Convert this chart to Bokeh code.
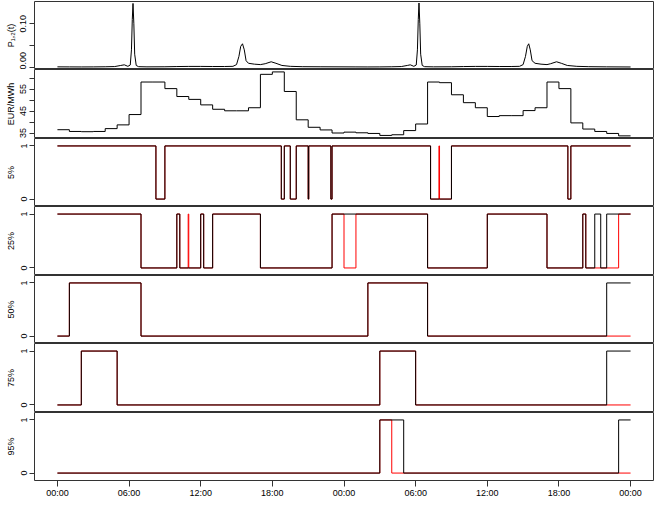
import numpy as np
from bokeh.plotting import figure
from bokeh.layouts import column
from bokeh.models import Range1d, FixedTicker
from bokeh.embed import file_html
from bokeh.resources import INLINE

FONT = "Liberation Sans"

# ---------------- data ----------------
x_tick_hours = [0, 6, 12, 18, 24, 30, 36, 42, 48]
x_tick_labels = ["00:00", "06:00", "12:00", "18:00", "00:00", "06:00", "12:00", "18:00", "00:00"]

# P_{1,2}(t): points (hours, value)
p_hours = [0.0, 1.0, 2.0, 3.0, 4.0, 4.8, 5.3, 5.6, 5.9, 6.1, 6.2, 6.27, 6.33, 6.4, 6.47, 6.6, 6.8, 7.5,
           9.0, 10.0, 11.0, 12.0, 13.0, 14.0, 14.7, 15.0, 15.2, 15.35, 15.5, 15.65, 15.8, 16.0, 16.5,
           17.0, 17.4, 17.9, 18.3, 18.8, 19.5, 20.5, 22.0,
           24.0, 25.0, 26.0, 27.0, 28.0, 28.8, 29.3, 29.55, 29.85, 30.05, 30.15, 30.22, 30.28, 30.35,
           30.42, 30.55, 30.75, 31.5, 33.0, 34.0, 35.0, 36.0, 37.0, 38.0, 38.7, 39.0, 39.2, 39.35,
           39.47, 39.6, 39.75, 40.0, 40.5, 41.0, 41.3, 41.8, 42.2, 42.7, 43.5, 44.5, 46.0, 48.0]
p_values = [0.0008, 0.0007, 0.0006, 0.0007, 0.0010, 0.0015, 0.0040, 0.0055, 0.0020, 0.0050, 0.0400,
            0.1100, 0.1470, 0.1000, 0.0300, 0.0040, 0.0012, 0.0008,
            0.0010, 0.0015, 0.0018, 0.0018, 0.0016, 0.0016, 0.0020, 0.0060, 0.0250, 0.0480, 0.0540,
            0.0400, 0.0150, 0.0090, 0.0070, 0.0060, 0.0080, 0.0125, 0.0090, 0.0040, 0.0020, 0.0012,
            0.0010,
            0.0008, 0.0007, 0.0006, 0.0007, 0.0010, 0.0015, 0.0040, 0.0055, 0.0020, 0.0050, 0.0400,
            0.1100, 0.1480, 0.1000, 0.0300, 0.0040, 0.0012, 0.0008, 0.0010, 0.0015, 0.0018, 0.0018,
            0.0016, 0.0016, 0.0020, 0.0060, 0.0250, 0.0480, 0.0540, 0.0400, 0.0150, 0.0090, 0.0070,
            0.0060, 0.0080, 0.0125, 0.0090, 0.0040, 0.0020, 0.0012, 0.0008, 0.0005]

# hourly price, EUR/MWh
price_hours = list(range(48))
price = [36.5, 35.7, 35.6, 35.7, 37.0, 38.7, 43.4, 58.2, 58.2, 55.2, 51.6, 50.3, 47.8, 45.8, 45.1, 45.1,
         46.5, 61.7, 62.8, 53.9, 41.0, 37.6, 36.4, 35.0,
         35.4, 35.1, 34.8, 33.9, 34.2, 36.1, 39.1, 58.2, 57.9, 52.4, 48.8, 46.5, 42.5, 42.9, 42.9, 45.2,
         46.5, 58.2, 55.2, 39.6, 36.8, 35.7, 34.8, 33.7]

# binary series: initial state and switching times (hours)
q_labels = ["5%", "25%", "50%", "75%", "95%"]
q05_black_start, q05_black_switch = 1, [8.25, 9.0, 18.75, 19.0, 19.5, 20.0, 21.0, 21.05, 22.9, 23.0,
                                        31.25, 33.0, 42.75, 43.0]
q05_red_start, q05_red_switch = 1, [8.25, 9.0, 18.75, 19.0, 19.5, 20.0, 21.0, 21.05, 22.9, 23.0,
                                    31.25, 31.95, 32.0, 33.0, 42.75, 43.0]
q25_black_start, q25_black_switch = 1, [7.0, 10.0, 10.25, 12.0, 12.25, 13.0, 17.0, 23.0, 31.0, 36.0,
                                        41.0, 44.0, 44.25, 45.0, 45.5, 46.0]
q25_red_start, q25_red_switch = 1, [7.0, 10.0, 10.25, 10.95, 11.0, 12.0, 12.25, 13.0, 17.0, 23.0,
                                    24.0, 25.0, 31.0, 36.0, 41.0, 44.0, 44.25, 47.0]
q50_black_start, q50_black_switch = 0, [1.0, 7.0, 26.0, 31.0, 46.0]
q50_red_start, q50_red_switch = 0, [1.0, 7.0, 26.0, 31.0]
q75_black_start, q75_black_switch = 0, [2.0, 5.0, 27.0, 30.0, 46.0]
q75_red_start, q75_red_switch = 0, [2.0, 5.0, 27.0, 30.0]
q95_black_start, q95_black_switch = 0, [27.0, 29.0, 47.0]
q95_red_start, q95_red_switch = 0, [27.0, 28.0]

T_END = 48.0


def steps(start, switches):
    xs = [0.0] + list(switches) + [T_END]
    ys = [start]
    s = start
    for _ in switches:
        s = 1 - s
        ys.append(s)
    ys.append(s)
    return xs, ys


# ---------------- layout ----------------
W = 656
LEFT = 34
xr = Range1d(-1.92, 49.92)
OUT = "#333333"


def make_fig(height, ylim, yticks, yoverrides, title, top=0, bottom=0, xaxis=False):
    p = figure(width=W, height=height, x_range=xr, y_range=Range1d(*ylim),
               output_backend="svg", toolbar_location=None,
               x_axis_location="below" if xaxis else None,
               min_border_left=LEFT, min_border_right=3,
               min_border_top=top, min_border_bottom=bottom)
    p.grid.visible = False
    p.outline_line_color = OUT
    p.outline_line_width = 1
    p.background_fill_color = "white"
    p.border_fill_color = "white"
    ya = p.yaxis[0]
    ya.ticker = FixedTicker(ticks=yticks)
    ya.major_label_overrides = yoverrides
    ya.major_label_orientation = "vertical"
    ya.major_label_text_font = FONT
    ya.major_label_text_font_size = "9px"
    ya.major_label_text_color = "#000000"
    ya.major_label_standoff = 3
    ya.major_tick_out = 5
    ya.major_tick_in = 0
    ya.major_tick_line_color = OUT
    ya.minor_tick_line_color = None
    ya.axis_line_color = None
    ya.axis_label = title
    ya.axis_label_text_font = FONT
    ya.axis_label_text_font_size = "9px"
    ya.axis_label_text_font_style = "normal"
    ya.axis_label_text_color = "#000000"
    ya.axis_label_standoff = 2
    if xaxis:
        xa = p.xaxis[0]
        xa.ticker = FixedTicker(ticks=x_tick_hours)
        xa.major_label_overrides = {h: lab for h, lab in zip(x_tick_hours, x_tick_labels)}
        xa.major_label_text_font = FONT
        xa.major_label_text_font_size = "9px"
        xa.major_label_text_color = "#000000"
        xa.major_label_standoff = 1
        xa.major_tick_out = 6
        xa.major_tick_in = 0
        xa.major_tick_line_color = OUT
        xa.minor_tick_line_color = None
        xa.axis_line_color = None
    return p


figs = []

# P_{1,2}(t)
f1 = make_fig(69, (-0.0053, 0.1514), [0.0, 0.05, 0.10], {0.0: "0.00", 0.05: "", 0.1: "0.10"},
              "P\u2081,\u2082(t)", top=1)
f1.line(p_hours, p_values, line_color="black", line_width=1)
figs.append(f1)

# price
f2 = make_fig(69, (32.5, 63.9), [35, 40, 45, 50, 55, 60], {40: "", 50: "", 60: ""}, "EUR/MWh")
f2.step(price_hours + [T_END], price + [price[-1]], mode="after", line_color="black", line_width=1)
figs.append(f2)

series = [
    (q05_black_start, q05_black_switch, q05_red_start, q05_red_switch, 68),
    (q25_black_start, q25_black_switch, q25_red_start, q25_red_switch, 69),
    (q50_black_start, q50_black_switch, q50_red_start, q50_red_switch, 68),
    (q75_black_start, q75_black_switch, q75_red_start, q75_red_switch, 69),
    (q95_black_start, q95_black_switch, q95_red_start, q95_red_switch, 68),
]
for i, (bs, bsw, rs, rsw, h) in enumerate(series):
    last = i == len(series) - 1
    f = make_fig(h + (24 if last else 0), (-0.14, 1.14), [0, 1], {}, q_labels[i],
                 bottom=24 if last else 0, xaxis=last)
    rx, ry = steps(rs, rsw)
    bx, by = steps(bs, bsw)
    f.step(rx, ry, mode="after", line_color="#FF0000", line_width=1)
    f.step(bx, by, mode="after", line_color="black", line_width=1)
    figs.append(f)

layout = column(*figs, spacing=0)
open("out.html", "w").write(file_html(layout, INLINE))
